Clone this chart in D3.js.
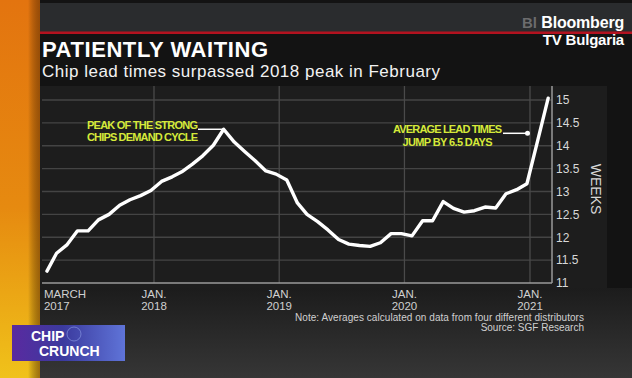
<!DOCTYPE html>
<html>
<head>
  <meta charset="utf-8">
  <script src="https://d3js.org/d3.v7.min.js"></script>
  <style>
    body {
      margin: 0;
      background: #121212;
      font-family: "Liberation Sans", Arial, sans-serif;
    }
    svg { display: block; }
  </style>
</head>
<body>
  <script>
    var w = 632, h = 378;

    // monthly average lead times in weeks, Feb 2017 .. Feb 2021
    var months = [
      "2017-02","2017-03","2017-04","2017-05","2017-06","2017-07","2017-08","2017-09","2017-10","2017-11","2017-12",
      "2018-01","2018-02","2018-03","2018-04","2018-05","2018-06","2018-07","2018-08","2018-09","2018-10","2018-11","2018-12",
      "2019-01","2019-02","2019-03","2019-04","2019-05","2019-06","2019-07","2019-08","2019-09","2019-10","2019-11","2019-12",
      "2020-01","2020-02","2020-03","2020-04","2020-05","2020-06","2020-07","2020-08","2020-09","2020-10","2020-11","2020-12",
      "2021-01","2021-02"
    ];
    var weeks = [
      11.26, 11.65, 11.84, 12.14, 12.14, 12.38, 12.50, 12.70, 12.82, 12.91, 13.02,
      13.22, 13.32, 13.43, 13.60, 13.78, 14.01, 14.36, 14.08, 13.87, 13.67, 13.45, 13.38,
      13.25, 12.75, 12.50, 12.34, 12.16, 11.95, 11.85, 11.82, 11.80, 11.88, 12.08, 12.08,
      12.03, 12.36, 12.36, 12.78, 12.63, 12.55, 12.58, 12.66, 12.64, 12.95, 13.04, 13.17,
      14.10, 15.04
    ];

    var yTicks = [11, 11.5, 12, 12.5, 13, 13.5, 14, 14.5, 15];
    var xTickMonths = ["2017-03", "2018-01", "2019-01", "2020-01", "2021-01"];
    var xTickLabels = [["MARCH", "2017"], ["JAN.", "2018"], ["JAN.", "2019"], ["JAN.", "2020"], ["JAN.", "2021"]];

    var parseMonth = d3.timeParse("%Y-%m");
    // points sit a few weeks after the month start on the original chart
    var data = months.map(function(m, i) {
      return { date: d3.timeDay.offset(parseMonth(m), 22), value: weeks[i] };
    });

    var svg = d3.select("body").append("svg")
      .attr("width", w)
      .attr("height", h);

    var defs = svg.append("defs");

    var stripGrad = defs.append("linearGradient").attr("id", "strip")
      .attr("x1", 0).attr("y1", 0).attr("x2", 0).attr("y2", 1);
    stripGrad.append("stop").attr("offset", "0%").attr("stop-color", "#e3740f");
    stripGrad.append("stop").attr("offset", "55%").attr("stop-color", "#e68a10");
    stripGrad.append("stop").attr("offset", "100%").attr("stop-color", "#f0c21a");

    var edgeGrad = defs.append("linearGradient").attr("id", "edge")
      .attr("x1", 0).attr("y1", 0).attr("x2", 1).attr("y2", 0);
    edgeGrad.append("stop").attr("offset", "0%").attr("stop-color", "#000").attr("stop-opacity", 0);
    edgeGrad.append("stop").attr("offset", "100%").attr("stop-color", "#5a2a00").attr("stop-opacity", 0.55);

    var bottomGrad = defs.append("linearGradient").attr("id", "bottom")
      .attr("x1", 0).attr("y1", 0).attr("x2", 0).attr("y2", 1);
    bottomGrad.append("stop").attr("offset", "0%").attr("stop-color", "#1c1c1c");
    bottomGrad.append("stop").attr("offset", "100%").attr("stop-color", "#363636");

    var badgeGrad = defs.append("linearGradient").attr("id", "badge")
      .attr("x1", 0).attr("y1", 0).attr("x2", 1).attr("y2", 0);
    badgeGrad.append("stop").attr("offset", "0%").attr("stop-color", "#5a2aa0");
    badgeGrad.append("stop").attr("offset", "45%").attr("stop-color", "#3b3a9e");
    badgeGrad.append("stop").attr("offset", "100%").attr("stop-color", "#5f74d8");

    // backdrop
    svg.append("rect").attr("width", w).attr("height", h).attr("fill", "#131313");
    svg.append("rect").attr("y", 3).attr("width", w).attr("height", 29).attr("fill", "#2a2c2e");
    svg.append("rect").attr("y", 288).attr("width", w).attr("height", h - 288).attr("fill", "url(#bottom)");
    svg.append("rect").attr("x", 40).attr("y", 86).attr("width", 567).attr("height", 202).attr("fill", "#1d1d1d");
    svg.append("rect").attr("x", 40).attr("y", 31.5).attr("width", w - 40).attr("height", 2.5).attr("fill", "#b3121f");

    // left orange strip
    svg.append("rect").attr("width", 40).attr("height", h).attr("fill", "url(#strip)");
    svg.append("rect").attr("x", 28).attr("width", 12).attr("height", h).attr("fill", "url(#edge)");

    // title
    svg.append("text")
      .attr("x", 42).attr("y", 57)
      .attr("fill", "#fff")
      .attr("textLength", 226)
      .style("font-size", "22px")
      .style("font-weight", "bold")
      .text("PATIENTLY WAITING");
    svg.append("text")
      .attr("x", 42).attr("y", 77)
      .attr("fill", "#f2f2f2")
      .attr("textLength", 398)
      .style("font-size", "17px")
      .text("Chip lead times surpassed 2018 peak in February");

    // Bloomberg logo
    svg.append("text")
      .attr("x", 537).attr("y", 28)
      .attr("text-anchor", "end")
      .attr("fill", "#8a8a8a").attr("fill-opacity", 0.7)
      .style("font-size", "15px").style("font-weight", "bold")
      .text("Bl");
    svg.append("text")
      .attr("x", 624).attr("y", 28)
      .attr("text-anchor", "end")
      .attr("fill", "#fff")
      .style("font-size", "16px").style("font-weight", "bold")
      .style("letter-spacing", "-0.2px")
      .text("Bloomberg");
    svg.append("text")
      .attr("x", 624).attr("y", 45)
      .attr("text-anchor", "end")
      .attr("fill", "#fff")
      .style("font-size", "15px").style("font-weight", "bold")
      .style("letter-spacing", "-0.2px")
      .text("TV Bulgaria");

    // scales
    var x = d3.scaleTime()
      .domain([new Date(2018, 0, 1), new Date(2021, 0, 1)])
      .range([154, 530]);
    var y = d3.scaleLinear().domain([11, 15]).range([283, 100]);

    var plotLeft = 42, plotRight = 552, plotTop = 86;

    // grid
    svg.append("g").selectAll("line")
      .data(yTicks.slice(1))
      .enter().append("line")
      .attr("x1", plotLeft).attr("x2", plotRight)
      .attr("y1", function(d) { return y(d); })
      .attr("y2", function(d) { return y(d); })
      .attr("stroke", "#444").attr("stroke-width", 1.3);

    svg.append("g").selectAll("line")
      .data(xTickMonths.slice(1))
      .enter().append("line")
      .attr("x1", function(d) { return x(parseMonth(d)); })
      .attr("x2", function(d) { return x(parseMonth(d)); })
      .attr("y1", plotTop).attr("y2", y(11))
      .attr("stroke", "#4a4a4a").attr("stroke-width", 1.3);

    // axes
    var yAxis = d3.axisRight(y)
      .tickValues(yTicks)
      .tickSize(0)
      .tickPadding(4)
      .tickFormat(d3.format("~g"));
    var yg = svg.append("g")
      .attr("transform", "translate(" + plotRight + ",0)")
      .call(yAxis);
    yg.select(".domain").remove();
    yg.selectAll("text")
      .attr("fill", "#d8d8d8")
      .style("font-size", "12px")
      .style("font-family", "'Liberation Sans', Arial, sans-serif");

    svg.append("line")
      .attr("x1", plotRight).attr("x2", plotRight)
      .attr("y1", plotTop).attr("y2", y(11))
      .attr("stroke", "#9a9a9a").attr("stroke-width", 1.5);
    svg.append("line")
      .attr("x1", plotLeft).attr("x2", plotRight)
      .attr("y1", y(11)).attr("y2", y(11))
      .attr("stroke", "#9a9a9a").attr("stroke-width", 1.5);

    svg.append("text")
      .attr("transform", "translate(591,189) rotate(90)")
      .attr("text-anchor", "middle")
      .attr("fill", "#d8d8d8")
      .style("font-size", "14px")
      .text("WEEKS");

    // x tick labels (two lines)
    var xl = svg.append("g").selectAll("text")
      .data(xTickMonths)
      .enter().append("text")
      .attr("x", function(d, i) { return i === 0 ? x(data[0].date) - 3 : x(parseMonth(d)); })
      .attr("y", 298)
      .attr("text-anchor", function(d, i) { return i === 0 ? "start" : "middle"; })
      .attr("fill", "#d0d0d0")
      .style("font-size", "11.5px");
    xl.each(function(d, i) {
      var t = d3.select(this);
      var xx = t.attr("x");
      xTickLabels[i].forEach(function(s, j) {
        t.append("tspan").attr("x", xx).attr("dy", j === 0 ? 0 : 12).text(s);
      });
    });

    // line
    var line = d3.line()
      .x(function(d) { return x(d.date); })
      .y(function(d) { return y(d.value); });

    svg.append("path")
      .datum(data)
      .attr("d", line)
      .attr("fill", "none")
      .attr("stroke", "#fff")
      .attr("stroke-width", 3.4)
      .attr("stroke-linejoin", "round")
      .attr("stroke-linecap", "round");

    // annotations
    var peak = data[d3.maxIndex(data.slice(0, 30), function(d) { return d.value; })];
    svg.append("line")
      .attr("x1", 198).attr("x2", x(peak.date))
      .attr("y1", y(peak.value)).attr("y2", y(peak.value))
      .attr("stroke", "#fff").attr("stroke-width", 1.5);
    var a1 = svg.append("text")
      .attr("x", 87).attr("y", 128.5)
      .attr("fill", "#d6ea3a")
      .style("font-size", "11px").style("font-weight", "bold");
    a1.append("tspan").attr("x", 87).attr("textLength", 111).text("PEAK OF THE STRONG");
    a1.append("tspan").attr("x", 87).attr("dy", 12.5).attr("textLength", 111).text("CHIPS DEMAND CYCLE");

    svg.append("line")
      .attr("x1", 503).attr("x2", 527.5)
      .attr("y1", 133.3).attr("y2", 133.3)
      .attr("stroke", "#fff").attr("stroke-width", 1.5);
    svg.append("circle").attr("cx", 527.5).attr("cy", 133.3).attr("r", 2.5).attr("fill", "#fff");
    var a2 = svg.append("text")
      .attr("x", 447.5).attr("y", 132.7)
      .attr("text-anchor", "middle")
      .attr("fill", "#d6ea3a")
      .style("font-size", "11px").style("font-weight", "bold");
    a2.append("tspan").attr("x", 447.5).attr("textLength", 109).text("AVERAGE LEAD TIMES");
    a2.append("tspan").attr("x", 447.5).attr("dy", 13).attr("textLength", 90).text("JUMP BY 6.5 DAYS");

    // note + source
    svg.append("text")
      .attr("x", 584).attr("y", 321)
      .attr("text-anchor", "end")
      .attr("fill", "#d0d0d0")
      .style("font-size", "10px")
      .attr("textLength", 289)
      .text("Note: Averages calculated on data from four different distributors");
    svg.append("text")
      .attr("x", 584).attr("y", 331)
      .attr("text-anchor", "end")
      .attr("fill", "#d0d0d0")
      .style("font-size", "10px")
      .text("Source: SGF Research");

    // CHIP CRUNCH badge
    svg.append("rect")
      .attr("x", 12).attr("y", 325).attr("width", 113).attr("height", 36)
      .attr("fill", "url(#badge)");
    svg.append("circle").attr("cx", 74).attr("cy", 334).attr("r", 7)
      .attr("fill", "none").attr("stroke", "#8fa0e8").attr("stroke-opacity", 0.6);
    svg.append("text")
      .attr("x", 31).attr("y", 341)
      .attr("fill", "#fff")
      .style("font-size", "14px").style("font-weight", "bold")
      .text("CHIP");
    svg.append("text")
      .attr("x", 39).attr("y", 356)
      .attr("fill", "#fff")
      .style("font-size", "14px").style("font-weight", "bold")
      .text("CRUNCH");
  </script>
</body>
</html>
